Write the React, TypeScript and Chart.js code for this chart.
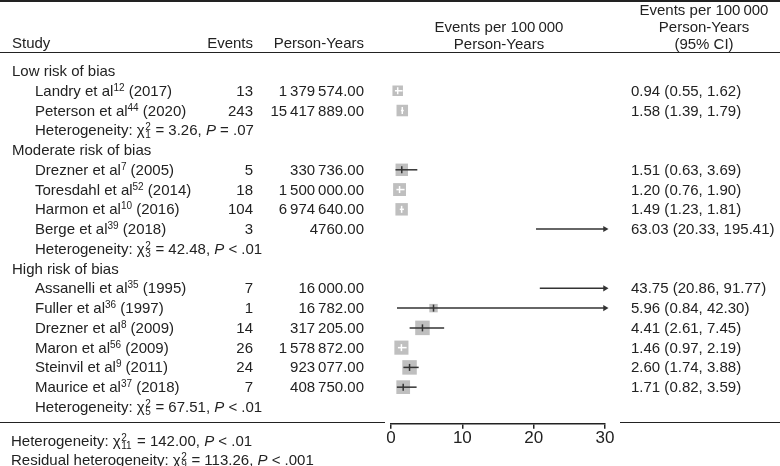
import React, { useEffect, useRef } from "react";
import { Chart, registerables } from "chart.js";

Chart.register(...registerables);

// ---------------- data ----------------
const groupLabels = ["Low risk of bias", "Moderate risk of bias", "High risk of bias"];
const studyNames = [
  "Landry et al", "Peterson et al",
  "Drezner et al", "Toresdahl et al", "Harmon et al", "Berge et al",
  "Assanelli et al", "Fuller et al", "Drezner et al", "Maron et al", "Steinvil et al", "Maurice et al",
];
const studyRefs = ["12", "44", "7", "52", "10", "39", "35", "36", "8", "56", "9", "37"];
const studyYears = ["2017", "2020", "2005", "2014", "2016", "2018", "1995", "1997", "2009", "2009", "2011", "2018"];
const studyGroup = [0, 0, 1, 1, 1, 1, 2, 2, 2, 2, 2, 2];
const events = [13, 243, 5, 18, 104, 3, 7, 1, 14, 26, 24, 7];
const personYears = [1379574, 15417889, 330736, 1500000, 6974640, 4760, 16000, 16782, 317205, 1578872, 923077, 408750];
const estimates = [0.94, 1.58, 1.51, 1.2, 1.49, 63.03, 43.75, 5.96, 4.41, 1.46, 2.6, 1.71];
const lowerCI = [0.55, 1.39, 0.63, 0.76, 1.23, 20.33, 20.86, 0.84, 2.61, 0.97, 1.74, 0.82];
const upperCI = [1.62, 1.79, 3.69, 1.9, 1.81, 195.41, 91.77, 42.3, 7.45, 2.19, 3.88, 3.59];
const weights = [5.0, 6.0, 7.0, 7.5, 7.0, 3.0, 4.0, 3.2, 9.5, 9.0, 9.5, 8.5];
const hetChi = [3.26, 42.48, 67.51];
const hetDf = ["1", "3", "5"];
const hetP = ["= .07", "< .01", "< .01"];
const overallChi = 142.0;
const overallDf = "11";
const overallP = "< .01";
const residualChi = 113.26;
const residualDf = "9";
const residualP = "< .001";
const xTicks = [0, 10, 20, 30];
const xMin = 0;
const xMax = 30;

// ---------------- layout constants ----------------
const W = 780;
const H = 466;
const FONT = '"Liberation Sans", Arial, Helvetica, sans-serif';
const TEXT = "#222";
const ROW0_Y = 71;
const ROW_H = 19.76;
const PLOT_LEFT = 391;
const PLOT_RIGHT = 605;
const Y_MAX = 17.85;
const X_AXIS_H = 30;
const MAX_SIDE = 14.5;
const SQUARE = "#bfbfbf";
const LINE = "#333";

type Row = { kind: "group" | "study" | "het"; idx: number };
const rows: Row[] = [];
groupLabels.forEach((_, g) => {
  rows.push({ kind: "group", idx: g });
  studyGroup.forEach((sg, i) => {
    if (sg === g) rows.push({ kind: "study", idx: i });
  });
  rows.push({ kind: "het", idx: g });
});
const studyRow = (i: number) => rows.findIndex((r) => r.kind === "study" && r.idx === i);
const rowY = (r: number) => ROW0_Y + r * ROW_H;

const maxW = Math.max(...weights);
const sideOf = (i: number) => MAX_SIDE * Math.sqrt(weights[i] / maxW);

function fmtPY(n: number) {
  const s = n.toFixed(2);
  const [intPart, dec] = s.split(".");
  if (intPart.length <= 4) return s;
  const parts: string[] = [];
  for (let k = intPart.length; k > 0; k -= 3) parts.unshift(intPart.slice(Math.max(0, k - 3), k));
  return parts.join("\u2009") + "." + dec;
}

function insideBox(chart: any, i: number) {
  const xs = chart && chart.scales && chart.scales.x;
  if (!xs || estimates[i] > xMax) return false;
  const c = xs.getPixelForValue(estimates[i]);
  const half = sideOf(i) / 2;
  return xs.getPixelForValue(lowerCI[i]) >= c - half && xs.getPixelForValue(upperCI[i]) <= c + half;
}

// ---------------- text helpers ----------------
const Chi = ({ df }: { df: string }) => {
  const w = Math.max(1, df.length) * 5.6 + 1;
  const sub: React.CSSProperties = { position: "absolute", left: 0.5, fontSize: 10, lineHeight: "10px" };
  return (
    <span>
      χ
      <span style={{ position: "relative", display: "inline-block", width: w, height: 10 }}>
        <span style={{ ...sub, top: -3 }}>2</span>
        <span style={{ ...sub, top: 5 }}>{df}</span>
      </span>
    </span>
  );
};

const HetText = ({ label, chi, df, p }: { label: string; chi: number; df: string; p: string }) => (
  <span>
    {label}: <Chi df={df} /> = {chi.toFixed(2)}, <i>P</i> {p}
  </span>
);

type TProps = { x: number; y: number; align?: "left" | "right" | "center"; children: React.ReactNode; lh?: number };
const T = ({ x, y, align = "left", children, lh = 20 }: TProps) => {
  const style: React.CSSProperties = {
    position: "absolute",
    top: y - lh / 2,
    lineHeight: `${lh}px`,
    whiteSpace: "nowrap",
  };
  if (align === "left") style.left = x;
  else if (align === "right") style.right = W - x;
  else {
    style.left = x - 150;
    style.width = 300;
    style.textAlign = "center";
  }
  return <div style={style}>{children}</div>;
};

const HLine = ({ x1, x2, y, w }: { x1: number; x2: number; y: number; w: number }) => (
  <div style={{ position: "absolute", left: x1, width: x2 - x1, top: y - w / 2, height: w, background: TEXT }} />
);

export default function App() {
  const ref = useRef<HTMLCanvasElement>(null);

  useEffect(() => {
    if (!ref.current) return;
    const shown = estimates.map((_, i) => i).filter((i) => estimates[i] <= xMax);
    const arrows = estimates.map((_, i) => i).filter((i) => upperCI[i] > xMax);

    const ciSets = estimates.map((_, i) => ({
      type: "line" as const,
      data: [
        { x: Math.max(lowerCI[i], xMin), y: studyRow(i) },
        { x: Math.min(upperCI[i], xMax), y: studyRow(i) },
      ],
      borderColor: (ctx: any) => (insideBox(ctx.chart, i) ? "#ffffff" : LINE),
      borderWidth: 1.5,
      pointRadius: 0,
      showLine: true,
      clip: false as any,
      order: 2,
    }));

    const chart = new Chart(ref.current, {
      type: "scatter",
      data: {
        datasets: [
          {
            type: "scatter",
            data: shown.map((i) => ({ x: estimates[i], y: studyRow(i) })),
            pointStyle: "rect",
            pointRadius: shown.map((i) => sideOf(i) / (2 * Math.SQRT1_2)),
            backgroundColor: SQUARE,
            borderWidth: 0,
            clip: false as any,
            order: 3,
          } as any,
          ...ciSets,
          {
            type: "scatter",
            data: shown.map((i) => ({ x: estimates[i], y: studyRow(i) })),
            pointStyle: "line",
            rotation: 90,
            pointRadius: 3.5,
            borderWidth: 1.5,
            pointBorderColor: (ctx: any) => (insideBox(ctx.chart, shown[ctx.dataIndex]) ? "#ffffff" : LINE),
            clip: false as any,
            order: 1,
          } as any,
          {
            type: "scatter",
            data: arrows.map((i) => ({ x: xMax, y: studyRow(i) })),
            pointStyle: "triangle",
            rotation: 90,
            pointRadius: 3.5,
            backgroundColor: LINE,
            borderColor: LINE,
            borderWidth: 0,
            clip: false as any,
            order: 0,
          } as any,
        ],
      },
      options: {
        responsive: false,
        animation: false,
        events: [],
        layout: {
          padding: {
            left: PLOT_LEFT,
            right: W - PLOT_RIGHT,
            top: ROW0_Y - 0.5 * ROW_H,
            bottom: H - (ROW0_Y + Y_MAX * ROW_H) - X_AXIS_H,
          },
        },
        plugins: { legend: { display: false }, tooltip: { enabled: false } },
        scales: {
          x: {
            type: "linear",
            position: "bottom",
            min: xMin,
            max: xMax,
            afterBuildTicks: (s: any) => {
              s.ticks = xTicks.map((v) => ({ value: v }));
            },
            afterFit: (s: any) => {
              s.height = X_AXIS_H;
            },
            ticks: {
              color: TEXT,
              font: { family: FONT, size: 17 },
              padding: -1,
              maxRotation: 0,
              autoSkip: false,
            },
            grid: { drawOnChartArea: false, drawTicks: true, tickLength: 5, color: TEXT, lineWidth: 1.5 },
            border: { display: true, color: TEXT, width: 1.5 },
          },
          y: { type: "linear", display: false, min: -0.5, max: Y_MAX, reverse: true },
        },
      } as any,
    });
    return () => chart.destroy();
  }, []);

  return (
    <div
      style={{
        position: "absolute",
        left: 0,
        top: 0,
        width: W,
        height: H,
        background: "#fff",
        fontFamily: FONT,
        fontSize: 15,
        color: TEXT,
        overflow: "hidden",
      }}
    >
      <canvas ref={ref} width={W} height={H} style={{ position: "absolute", left: 0, top: 0, width: W, height: H }} />

      {/* rules */}
      <HLine x1={0} x2={W} y={1} w={2.2} />
      <HLine x1={0} x2={W} y={52.5} w={1.6} />
      <HLine x1={0} x2={385} y={422.3} w={1.6} />
      <HLine x1={620} x2={W} y={422.3} w={1.6} />

      {/* headers */}
      <T x={12} y={43}>Study</T>
      <T x={253} y={43} align="right">Events</T>
      <T x={364} y={43} align="right">Person-Years</T>
      <T x={499} y={26.5} align="center">Events per 100{"\u2009"}000</T>
      <T x={499} y={43.5} align="center">Person-Years</T>
      <T x={704} y={10} align="center">Events per 100{"\u2009"}000</T>
      <T x={704} y={27} align="center">Person-Years</T>
      <T x={704} y={43.5} align="center">(95% CI)</T>

      {/* rows */}
      {rows.map((r, k) => {
        const y = rowY(k);
        if (r.kind === "group")
          return (
            <T key={k} x={12} y={y}>
              {groupLabels[r.idx]}
            </T>
          );
        if (r.kind === "het")
          return (
            <T key={k} x={35} y={y}>
              <HetText label="Heterogeneity" chi={hetChi[r.idx]} df={hetDf[r.idx]} p={hetP[r.idx]} />
            </T>
          );
        const i = r.idx;
        return (
          <React.Fragment key={k}>
            <T x={35} y={y}>
              {studyNames[i]}
              <span style={{ fontSize: 10, position: "relative", top: -5 }}>{studyRefs[i]}</span> ({studyYears[i]})
            </T>
            <T x={253} y={y} align="right">
              {events[i]}
            </T>
            <T x={364} y={y} align="right">
              {fmtPY(personYears[i])}
            </T>
            <T x={631} y={y}>
              {estimates[i].toFixed(2)} ({lowerCI[i].toFixed(2)}, {upperCI[i].toFixed(2)})
            </T>
          </React.Fragment>
        );
      })}

      {/* footer */}
      <T x={11} y={441}>
        <HetText label="Heterogeneity" chi={overallChi} df={overallDf} p={overallP} />
      </T>
      <T x={11} y={460}>
        <HetText label="Residual heterogeneity" chi={residualChi} df={residualDf} p={residualP} />
      </T>
    </div>
  );
}
